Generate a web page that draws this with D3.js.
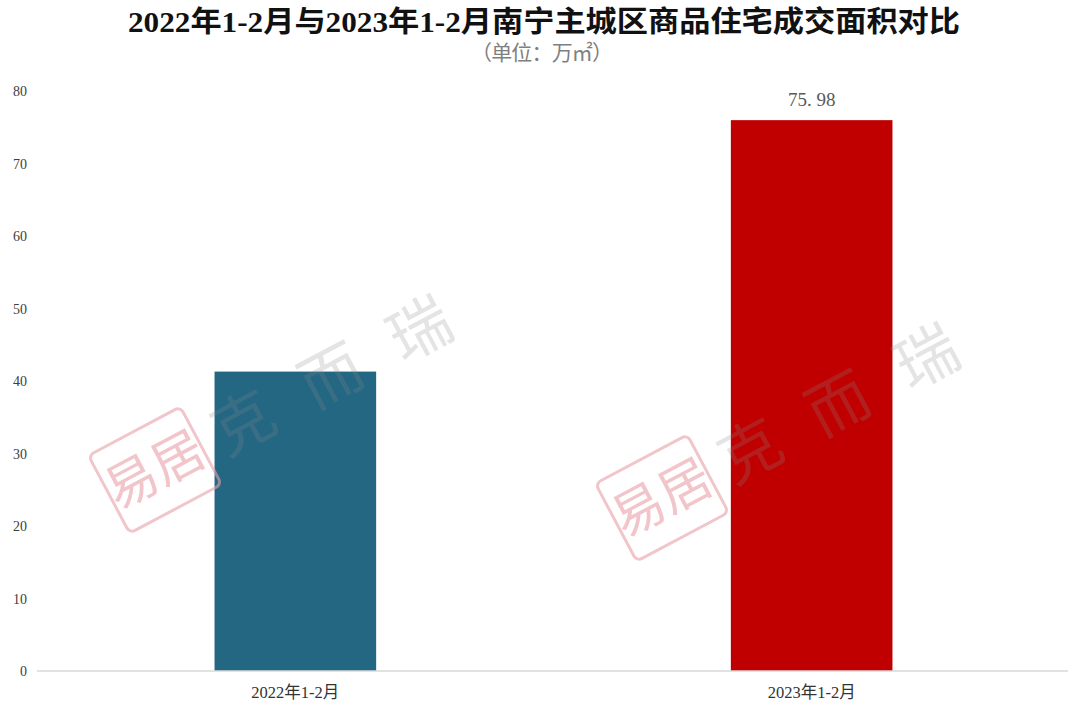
<!DOCTYPE html>
<html>
<head>
<meta charset="utf-8">
<script src="https://cdn.jsdelivr.net/npm/d3@7"></script>
<style>
  body { margin: 0; background: #fff; }
  svg { display: block; }
</style>
</head>
<body>
<svg id="chart"></svg>
<script>
const categories = ["2022年1-2月", "2023年1-2月"];
const values = [41.3, 75.98];
const barColors = ["#246783", "#c00000"];
const yTicks = [0, 10, 20, 30, 40, 50, 60, 70, 80];
const valueLabels = [null, "75.98"];

const width = 1080;
const height = 713;
const serif = "'Liberation Serif', 'Noto Sans CJK SC', serif";

const svg = d3.select("#chart").attr("width", width).attr("height", height);

const x = d3.scaleBand()
  .domain(categories)
  .range([39, 1068])
  .paddingInner(0.687)
  .paddingOuter(0.34);

const y = d3.scaleLinear().domain([0, 80]).range([671, 91]);

const rows = categories.map((c, i) => ({ cat: c, value: values[i], color: barColors[i], label: valueLabels[i] }));

// title
svg.append("text")
  .attr("x", 544).attr("y", 32)
  .attr("text-anchor", "middle")
  .attr("font-family", serif)
  .attr("font-size", 29)
  .attr("font-weight", "bold")
  .attr("fill", "#111")
  .attr("textLength", 832)
  .attr("lengthAdjust", "spacingAndGlyphs")
  .text("2022年1-2月与2023年1-2月南宁主城区商品住宅成交面积对比");

svg.append("text")
  .attr("x", 542).attr("y", 60)
  .attr("text-anchor", "middle")
  .attr("font-family", serif)
  .attr("font-size", 21)
  .attr("fill", "#7f7f7f")
  .attr("textLength", 142)
  .attr("lengthAdjust", "spacing")
  .text("（单位：万㎡）");

// y tick labels
svg.append("g")
  .selectAll("text")
  .data(yTicks)
  .enter()
  .append("text")
  .attr("x", 27)
  .attr("y", (d) => y(d) + 5)
  .attr("text-anchor", "end")
  .attr("font-family", serif)
  .attr("font-size", 14)
  .attr("fill", "#404040")
  .text((d) => d);

// bars
svg.append("g")
  .selectAll("rect")
  .data(rows)
  .enter()
  .append("rect")
  .attr("x", (d) => x(d.cat))
  .attr("y", (d) => y(d.value))
  .attr("width", x.bandwidth())
  .attr("height", (d) => y(0) - y(d.value))
  .attr("fill", (d) => d.color);

// baseline
svg.append("line")
  .attr("x1", 37).attr("x2", 1068)
  .attr("y1", y(0)).attr("y2", y(0))
  .attr("stroke", "#d9d9d9")
  .attr("stroke-width", 1.5);

// value labels
svg.append("g")
  .selectAll("text")
  .data(rows.filter((d) => d.label !== null))
  .enter()
  .append("text")
  .attr("x", (d) => x(d.cat) + x.bandwidth() / 2)
  .attr("y", (d) => y(d.value) - 14)
  .attr("text-anchor", "middle")
  .attr("font-family", serif)
  .attr("font-size", 19)
  .attr("fill", "#595959")
  .text((d) => d.label.replace(".", ". "));

// x labels
svg.append("g")
  .selectAll("text")
  .data(categories)
  .enter()
  .append("text")
  .attr("x", (d) => x(d) + x.bandwidth() / 2)
  .attr("y", 698)
  .attr("text-anchor", "middle")
  .attr("font-family", serif)
  .attr("font-size", 16.5)
  .attr("fill", "#333")
  .text((d) => d);

// watermark stamps
const marks = [[155, 470], [662, 498]];
marks.forEach(([mx, my]) => {
  const g = svg.append("g")
    .attr("transform", `translate(${mx},${my}) rotate(-28)`)
    .attr("pointer-events", "none");
  g.append("rect")
    .attr("x", -52).attr("y", -44)
    .attr("width", 104).attr("height", 88)
    .attr("rx", 6)
    .attr("fill", "none")
    .attr("stroke", "#e8a0a8")
    .attr("stroke-width", 3)
    .attr("opacity", 0.6);
  g.append("text")
    .attr("x", 0).attr("y", 18)
    .attr("text-anchor", "middle")
    .attr("font-family", "'Noto Sans CJK SC'")
    .attr("font-size", 52)
    .attr("fill", "#e8a0a8")
    .attr("opacity", 0.6)
    .text("易居");
  g.selectAll("text.w")
    .data(["克", "而", "瑞"])
    .enter()
    .append("text")
    .attr("class", "w")
    .attr("x", (d, i) => 100 + i * 100)
    .attr("y", 22)
    .attr("text-anchor", "middle")
    .attr("font-family", "'Noto Sans CJK SC'")
    .attr("font-size", 62)
    .attr("fill", "#888")
    .attr("opacity", 0.22)
    .text((d) => d);
});
</script>
</body>
</html>
